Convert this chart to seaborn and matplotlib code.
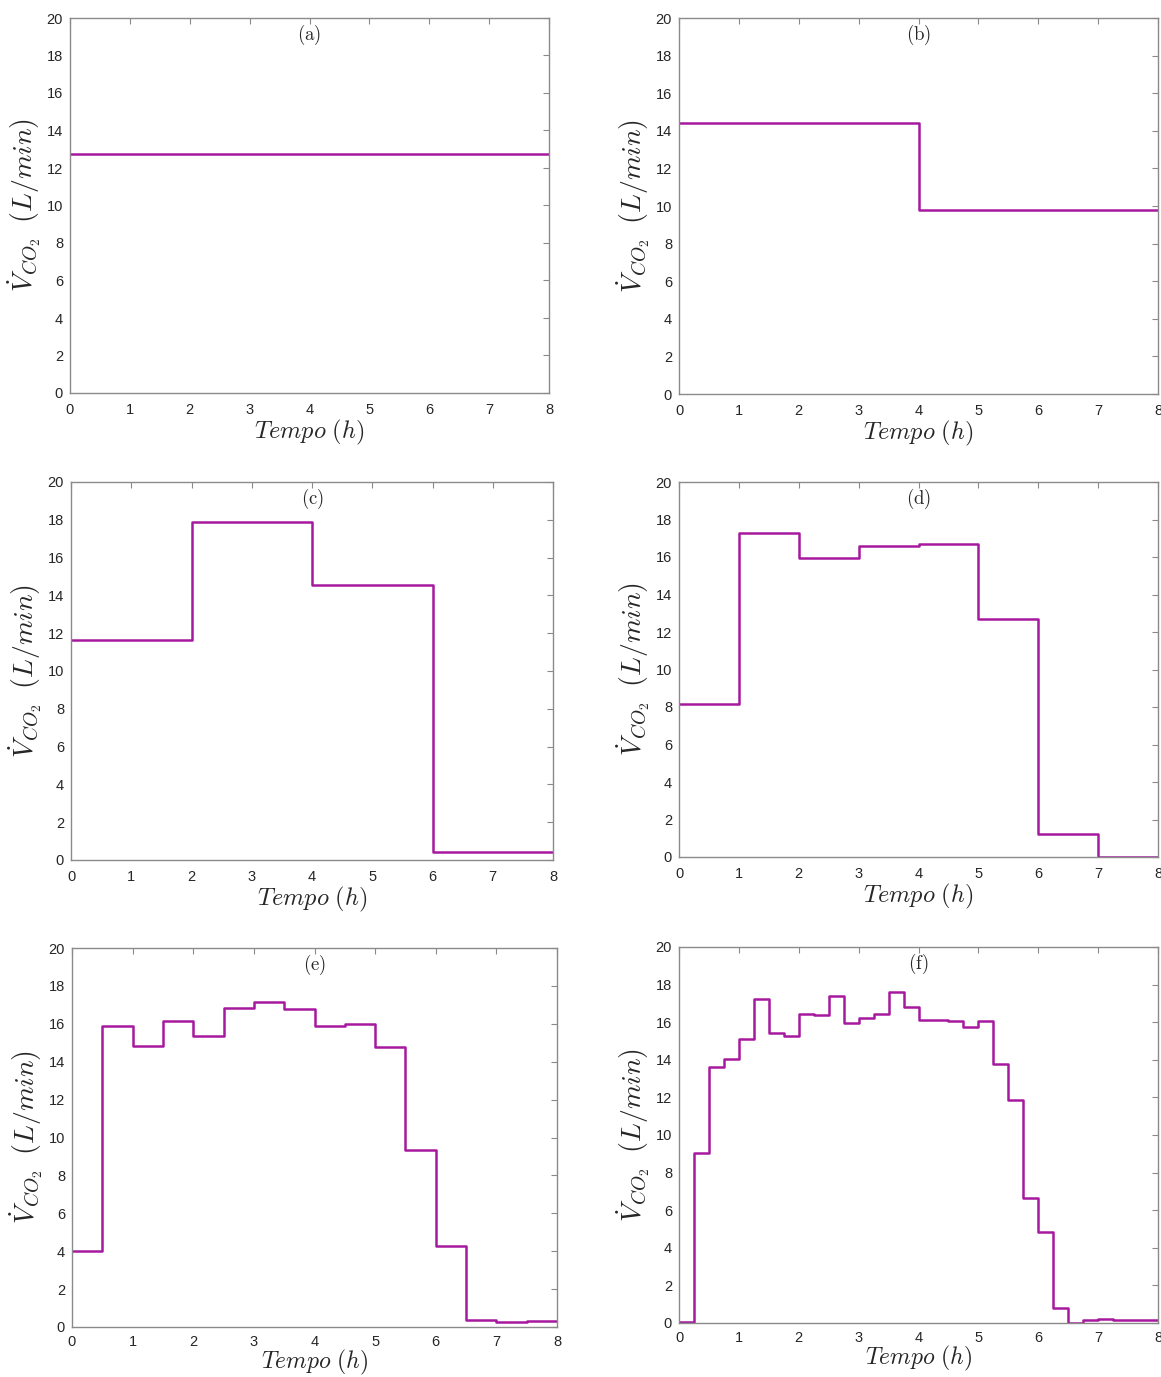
import numpy as np
import pandas as pd
import matplotlib
matplotlib.use("Agg")
import matplotlib.pyplot as plt
import seaborn as sns

# Piecewise-constant CO2 flow profiles (L/min) for six discretisations of an 8 h run
profile_a = [12.75]
profile_b = [14.4, 9.8]
profile_c = [11.65, 17.9, 14.55, 0.4]
profile_d = [8.18, 17.29, 15.97, 16.6, 16.72, 12.7, 1.23, 0.0]
profile_e = [4.0, 15.89, 14.85, 16.17, 15.38, 16.86, 17.16, 16.77,
             15.91, 16.0, 14.80, 9.33, 4.25, 0.35, 0.26, 0.30]
profile_f = [0.07, 9.03, 13.64, 14.04, 15.09, 17.25, 15.41, 15.27,
             16.41, 16.36, 17.38, 15.95, 16.25, 16.46, 17.58, 16.82,
             16.14, 16.14, 16.04, 15.77, 16.05, 13.78, 11.84, 6.63,
             4.84, 0.82, 0.0, 0.16, 0.23, 0.18, 0.18, 0.18]

panel_tags = ["(a)", "(b)", "(c)", "(d)", "(e)", "(f)"]
profiles = [profile_a, profile_b, profile_c, profile_d, profile_e, profile_f]

t_end = 8.0
y_ticks = list(range(0, 21, 2))
x_ticks = list(range(0, 9))

sns.set_style("white")
plt.rcParams["font.family"] = ["Liberation Sans", "DejaVu Sans"]
plt.rcParams["mathtext.fontset"] = "cm"

line_color = "#A6199F"
spine_color = "#8a8a8a"

W, H = 1161, 1377
# axes boxes in pixels: left, right, top, bottom
boxes = [
    (70, 549, 18, 393),
    (679, 1158, 18, 394),
    (71, 553, 482, 860),
    (679, 1158, 482, 857),
    (72, 557, 948, 1327),
    (679, 1158, 947, 1323),
]

fig = plt.figure(figsize=(W / 100, H / 100), dpi=100)

for i, (tag, vals, (l, r, t, b)) in enumerate(zip(panel_tags, profiles, boxes)):
    ax = fig.add_axes([l / W, 1 - b / H, (r - l) / W, (b - t) / H])
    n = len(vals)
    edges = np.linspace(0, t_end, n + 1)
    df = pd.DataFrame({"t": edges, "v": list(vals) + [vals[-1]]})
    sns.lineplot(data=df, x="t", y="v", ax=ax, drawstyle="steps-post",
                 color=line_color, linewidth=1.8, estimator=None)
    ax.set_xlim(0, t_end)
    ax.set_ylim(0, 20)
    ax.set_xticks(x_ticks)
    ax.set_yticks(y_ticks)
    ax.tick_params(direction="in", length=4, width=0.8, color=spine_color,
                   labelsize=10.5, top=True, right=True,
                   labelcolor="#262626")
    ax.tick_params(axis="x", pad=7 if i < 4 else 6)
    ax.tick_params(axis="y", pad=5)
    for s in ax.spines.values():
        s.set_visible(True)
        s.set_color(spine_color)
        s.set_linewidth(1.0)
    ax.set_xlabel(r"$Tempo\ (h)$", fontsize=17.5 if i < 4 else 17,
                  labelpad=1 if i < 4 else -1)
    ax.set_ylabel(r"$\dot{V}_{CO_2}\;\;(L/min)$", fontsize=20, labelpad=3)
    ax.text(0.5, 1 - 17 / (b - t), r"$\mathrm{" + tag + "}$",
            transform=ax.transAxes, ha="center", va="center", fontsize=13.5)

fig.savefig("out.png", dpi=100, facecolor="white")
